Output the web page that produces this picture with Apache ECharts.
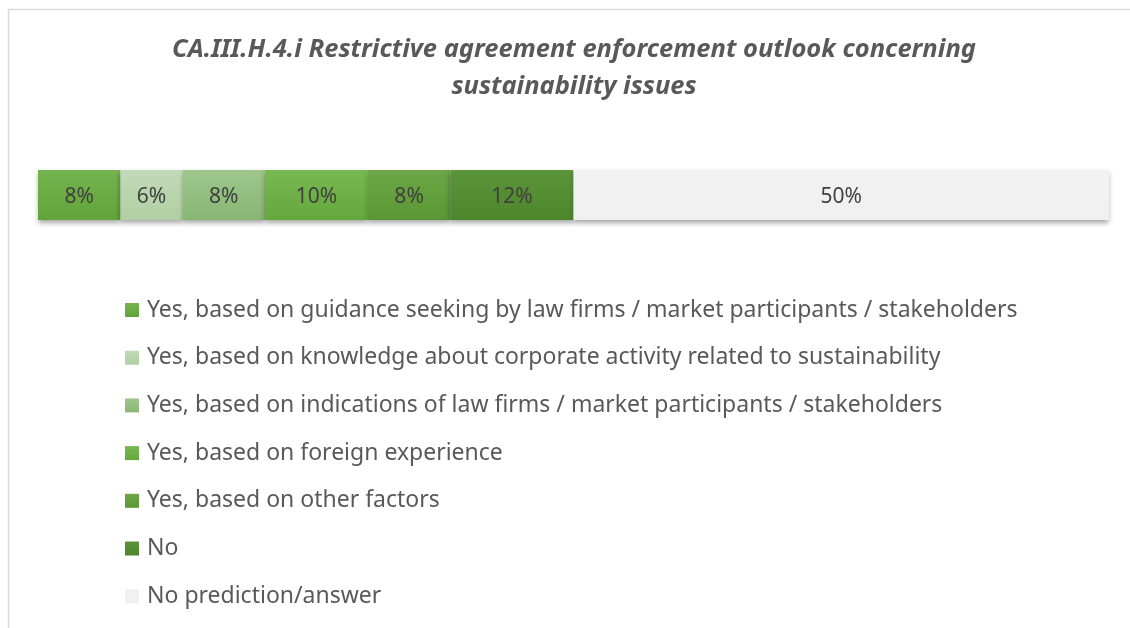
<!DOCTYPE html>
<html><head><meta charset="utf-8">
<script src="https://cdn.jsdelivr.net/npm/echarts@6/dist/echarts.min.js"></script>
<style>html,body{margin:0;padding:0;background:#fff}#c{width:1130px;height:628px}</style>
</head><body><div id="c"></div>
<script>
const titleText = 'CA.III.H.4.i Restrictive agreement enforcement outlook concerning\nsustainability issues';
const categories = ['Outlook'];
const seriesNames = [
  'Yes, based on guidance seeking by law firms / market participants / stakeholders',
  'Yes, based on knowledge about corporate activity related to sustainability',
  'Yes, based on indications of law firms / market participants / stakeholders',
  'Yes, based on foreign experience',
  'Yes, based on other factors',
  'No',
  'No prediction/answer'
];
const seriesValues = [7.7, 5.8, 7.7, 9.6, 7.7, 11.5, 50.0];
const topColors = ['#74b44e', '#c2dab8', '#9fc78c', '#78b852', '#6da747', '#5c943a', '#f2f2f2'];
const bottomColors = ['#62a33a', '#b0cfa2', '#88b674', '#64a83c', '#5a9734', '#4e862c', '#f0f0f0'];

function grad(i){
  return {type:'linear',x:0,y:0,x2:0,y2:1,colorStops:[{offset:0,color:topColors[i]},{offset:1,color:bottomColors[i]}]};
}

const chart = echarts.init(document.getElementById('c'), null, {renderer:'canvas'});
const series = seriesNames.map((n,i)=>({
  name:n, type:'bar', stack:'all', barWidth:50,
  data:[seriesValues[i]],
  itemStyle:{color:grad(i), shadowColor:'rgba(0,0,0,0.35)', shadowBlur:5, shadowOffsetY:3},
  label:{show:true, position:'inside', offset:[0,2], color:'#404040', fontSize:21, fontFamily:'Noto Sans',
    formatter:p=>Math.round(p.value)+'%'},
  emphasis:{disabled:true}
}));
chart.setOption({
  animation:false,
  title:{text:titleText, left:574, textAlign:'center', top:31, padding:0,
    textStyle:{fontFamily:'Noto Sans', fontSize:25.5, fontStyle:'italic', fontWeight:'bold', color:'#595959', lineHeight:37}},
  graphic:[{type:'rect', shape:{x:8.5,y:9.5,width:1200,height:700}, style:{fill:'none', stroke:'#d9d9d9', lineWidth:1.5}, silent:true, z:-1}],
  grid:{left:38, right:21, top:170, height:50, containLabel:false},
  xAxis:{type:'value', min:0, max:100, show:false},
  yAxis:{type:'category', data:categories, show:false},
  legend:{orient:'vertical', left:125, top:298, padding:0, itemWidth:14, itemHeight:14, itemGap:23.7,
    icon:'rect', textStyle:{fontFamily:'Noto Sans', fontSize:23, lineHeight:24, color:'#595959', padding:[0,0,0,3]},
    data:seriesNames},
  series:series
});
</script></body></html>
